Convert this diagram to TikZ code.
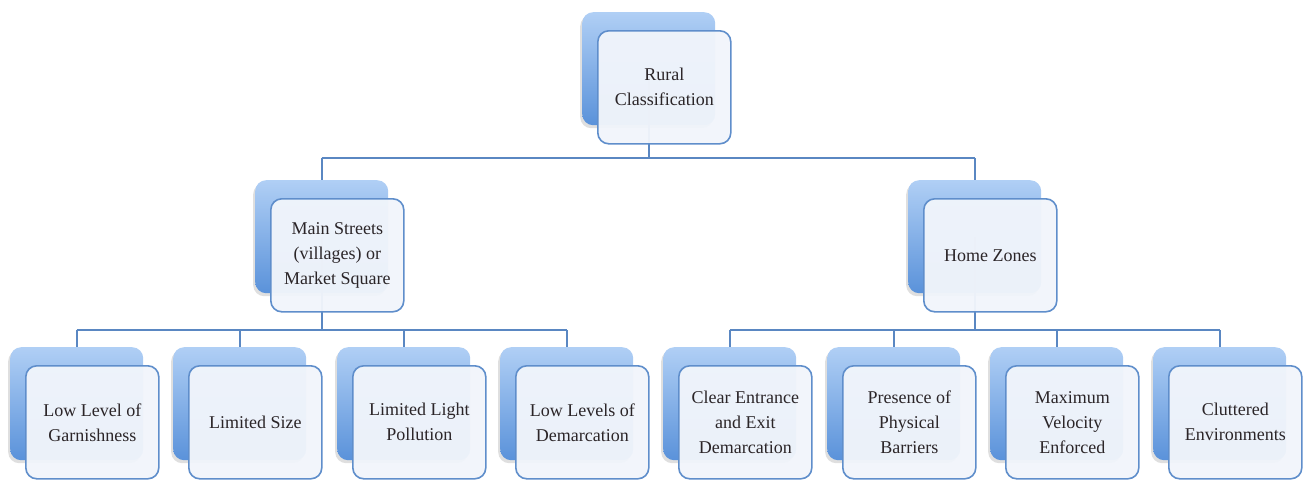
\documentclass[tikz,border=0pt]{standalone}
\usepackage{fontspec}
\setmainfont{Liberation Serif}
\usetikzlibrary{shadows}
\definecolor{linkblue}{HTML}{5A87C2}
\definecolor{backtop}{HTML}{B0CFF5}
\definecolor{backbot}{HTML}{5A92DA}
\definecolor{frontfill}{HTML}{F1F5FB}
\definecolor{frontedge}{HTML}{5F8ECB}
\definecolor{labeltext}{HTML}{2B2528}
\tikzset{
  backbox/.style={rounded corners=11pt, minimum width=133pt, minimum height=113pt,
    inner sep=0pt, top color=backtop, bottom color=backbot, draw=none,
    drop shadow={shadow xshift=-2pt, shadow yshift=-3pt, opacity=0.25}},
  frontbox/.style={rounded corners=11pt, minimum width=133pt, minimum height=113pt,
    inner sep=0pt, fill=frontfill, fill opacity=0.96, text opacity=1,
    draw=frontedge, line width=1.6pt, align=center, text=labeltext,
    font=\fontsize{18}{25}\selectfont},
  link/.style={draw=linkblue, line width=1.8pt}
}
\begin{document}
\begin{tikzpicture}[x=1pt, y=-1pt]
\useasboundingbox (0,0) rectangle (1303,479);

% back plates (top-left corner positions)
\node[backbox, anchor=north west] (rb)  at (582,12)  {};
\node[backbox, anchor=north west] (mlb) at (255,180) {};
\node[backbox, anchor=north west] (mrb) at (908,180) {};
\foreach \i/\x in {1/10, 2/173, 3/337, 4/500, 5/663, 6/827, 7/990, 8/1153}
  \node[backbox, anchor=north west] (lb\i) at (\x,347) {};

% connectors, drawn over the back plates and under the front cards
\coordinate (barA) at (0,158);
\coordinate (barB) at (0,330);
\draw[link] (rb.center) -- (rb.center |- barA);
\draw[link] (mlb.center |- barA) -- (mrb.center |- barA);
\draw[link] (mlb.center |- barA) -- (mlb.north);
\draw[link] (mrb.center |- barA) -- (mrb.north);
\draw[link] (mlb.center) -- (mlb.center |- barB);
\draw[link] (mrb.center) -- (mrb.center |- barB);
\draw[link] (lb1.center |- barB) -- (lb4.center |- barB);
\draw[link] (lb5.center |- barB) -- (lb8.center |- barB);
\foreach \i in {1,...,8}
  \draw[link] (lb\i.center |- barB) -- (lb\i.north);

% front cards with the labels
\node[frontbox, anchor=north west] (root) at (597,30)  {Rural\\Classification};
\node[frontbox, anchor=north west] (ml)   at (270,198) {Main Streets\\(villages) or\\Market Square};
\node[frontbox, anchor=north west] (mr)   at (923,198) {Home Zones};
\node[frontbox, anchor=north west] (l1) at (25,365)   {Low Level of\\Garnishness};
\node[frontbox, anchor=north west] (l2) at (188,365)  {Limited Size};
\node[frontbox, anchor=north west] (l3) at (352,365)  {Limited Light\\Pollution};
\node[frontbox, anchor=north west] (l4) at (515,365)  {Low Levels of\\Demarcation};
\node[frontbox, anchor=north west] (l5) at (678,365)  {Clear Entrance\\and Exit\\Demarcation};
\node[frontbox, anchor=north west] (l6) at (842,365)  {Presence of\\Physical\\Barriers};
\node[frontbox, anchor=north west] (l7) at (1005,365) {Maximum\\Velocity\\Enforced};
\node[frontbox, anchor=north west] (l8) at (1168,365) {Cluttered\\Environments};
\end{tikzpicture}
\end{document}
